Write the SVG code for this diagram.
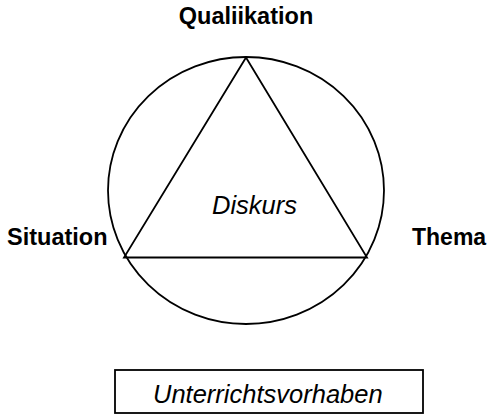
<svg xmlns="http://www.w3.org/2000/svg" width="488" height="415" viewBox="0 0 488 415">
<style>
.ln{fill:none;stroke:#000;stroke-width:1.8}
.lb{font-family:"Liberation Sans",Arial,sans-serif;font-weight:bold;font-size:23.5px;fill:#000}
.it{font-family:"Liberation Sans",Arial,sans-serif;font-style:italic;font-size:25.5px;fill:#000}
</style>
<rect width="488" height="415" fill="#fff"/>
<g id="connectors">
<ellipse class="ln" cx="246" cy="190.5" rx="138" ry="133.5"/>
<polygon class="ln" points="246,57.5 124,257.5 367,257.5"/>
</g>
<g id="qualifikation"><text class="lb" x="246" y="24" text-anchor="middle">Qualiikation</text></g>
<g id="situation"><text class="lb" x="7" y="245">Situation</text></g>
<g id="thema"><text class="lb" x="412" y="245" style="font-size:23px">Thema</text></g>
<g id="diskurs"><text class="it" x="212" y="214">Diskurs</text></g>
<g id="unterrichtsvorhaben">
<rect class="ln" x="115" y="370" width="308" height="43"/>
<text class="it" x="153" y="403">Unterrichtsvorhaben</text>
</g>
</svg>
